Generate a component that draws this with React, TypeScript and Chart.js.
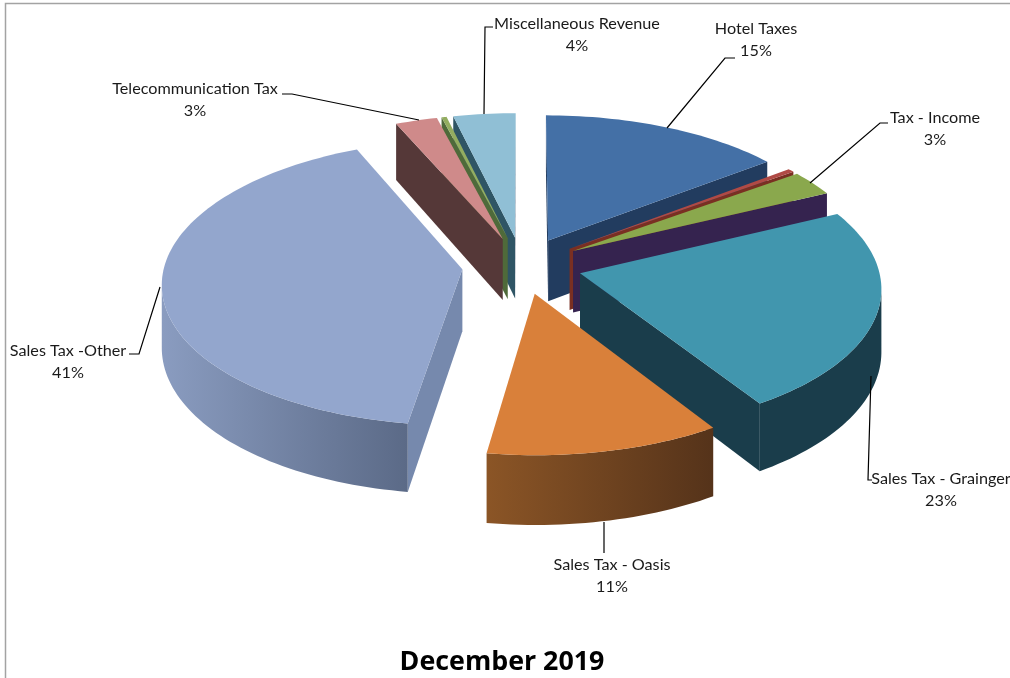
import React, { useEffect, useRef } from "react";
import { Chart, registerables } from "chart.js";

Chart.register(...registerables);

const categories = [
  "Hotel Taxes", "Franchise Tax", "Tax - Income", "Sales Tax - Grainger", "Sales Tax - Oasis",
  "Sales Tax -Other", "Telecommunication Tax", "Other Tax", "Miscellaneous Revenue",
];
const values = [14.6, 0.4, 2.87, 23.09, 11.4, 41.09, 2.52, 0.3, 3.73];
const percentLabels = ["15%", "", "3%", "23%", "11%", "41%", "3%", "", "4%"];

const topColors = ["#4470a6", "#b04a45", "#8aa84d", "#4196ae", "#d9803a", "#93a6cd", "#cf8a8a", "#93ad60", "#90bfd5"];
const startFaceColors = ["#223c5f", "#7a2f22", "#4f6a35", "#1a3d4b", "#8a5226", "#7689ad", "#553838", "#4f6a3a", "#2f5565"];
const endFaceColors = ["#223c5f", "#7a2f22", "#35234f", "#1a3d4b", "#6b4020", "#7689ad", "#553838", "#4f6a3a", "#4b4f66"];
const wallLeftColors = ["#223c5f", "#7a2f22", "#35234f", "#1a3d4b", "#8b5526", "#8a9cc0", "#553838", "#4f6a3a", "#2f5565"];
const wallRightColors = ["#223c5f", "#7a2f22", "#35234f", "#1a3d4b", "#55331a", "#5b6a87", "#553838", "#4f6a3a", "#2f5565"];

// label text centre and leader line, per labelled category
const labelBoxes: Record<string, { x: number; y: number; line: number[][] }> = {
  "Hotel Taxes": { x: 756, y: 29, line: [[667, 128], [725, 58], [735, 58]] },
  "Tax - Income": { x: 935, y: 118, line: [[810, 183], [880, 123], [888, 123]] },
  "Sales Tax - Grainger": { x: 941, y: 479, line: [[871, 376], [868, 480], [872, 480]] },
  "Sales Tax - Oasis": { x: 612, y: 565, line: [[604, 522], [604, 553]] },
  "Sales Tax -Other": { x: 68, y: 351, line: [[160, 287], [139, 354], [129, 354]] },
  "Telecommunication Tax": { x: 195, y: 89, line: [[419, 120], [292, 94], [282, 94]] },
  "Miscellaneous Revenue": { x: 577, y: 24, line: [[484, 114], [485, 27], [493, 27]] },
};

const SQUASH = 141 / 298;
const PERSPECTIVE = 0.0926;
const DEPTH = 62;
const PIE_SHIFT_X = 20;
const FONT = "Lato";

const pie3d = {
  id: "pie3d",
  beforeDatasetsDraw(chart: any) {
    const ctx = chart.ctx;
    const arcs = chart.getDatasetMeta(0).data;
    const warp = (x0: number, y0: number, R: number, px: number, py: number, z: number) => {
      const w = 1 - (PERSPECTIVE * (py - y0)) / R;
      return [x0 + PIE_SHIFT_X + (px - x0) / w, y0 + (SQUASH * (py - y0) + z) / w];
    };
    const items = arcs.map((arc: any, i: number) => {
      const { x, y, startAngle, endAngle, outerRadius } = arc.getProps(["x", "y", "startAngle", "endAngle", "outerRadius"], true);
      const mid = (startAngle + endAngle) / 2;
      const off = arc.options.offset || 0;
      const tx = x + Math.cos(mid) * off;
      const ty = y + Math.sin(mid) * off;
      const n = Math.max(6, Math.ceil((endAngle - startAngle) * 40));
      const rim: number[][] = [];
      for (let k = 0; k <= n; k++) {
        const a = startAngle + ((endAngle - startAngle) * k) / n;
        rim.push([tx + Math.cos(a) * outerRadius, ty + Math.sin(a) * outerRadius]);
      }
      const P = (p: number[], z: number) => warp(x, y, outerRadius, p[0], p[1], z);
      return { i, mid, tip: [tx, ty], rim, P, key: Math.sin(mid) };
    });
    const shoelace = (a: number[], b: number[], c: number[], d: number[]) =>
      a[0] * b[1] - b[0] * a[1] + b[0] * c[1] - c[0] * b[1] + c[0] * d[1] - d[0] * c[1] + d[0] * a[1] - a[0] * d[1];
    const fillPoly = (pts: number[][], fill: any) => {
      ctx.beginPath();
      pts.forEach((p, k) => (k ? ctx.lineTo(p[0], p[1]) : ctx.moveTo(p[0], p[1])));
      ctx.closePath();
      ctx.fillStyle = fill;
      ctx.fill();
    };
    const quad = (a: number[], b: number[], c: number[], d: number[], fill: any) => {
      if (shoelace(a, b, c, d) < 0) fillPoly([a, b, c, d], fill);
    };
    const sorted = [...items].sort((a: any, b: any) => a.key - b.key);
    sorted.forEach((s: any) => {
      const { P, rim, tip, i } = s;
      const first = rim[0];
      const last = rim[rim.length - 1];
      quad(P(tip, 0), P(first, 0), P(first, DEPTH), P(tip, DEPTH), startFaceColors[i]);
      quad(P(last, 0), P(tip, 0), P(tip, DEPTH), P(last, DEPTH), endFaceColors[i]);
      const xs = rim.map((p: number[]) => P(p, 0)[0]);
      const g = ctx.createLinearGradient(Math.min(...xs), 0, Math.max(...xs) + 0.01, 0);
      g.addColorStop(0, wallLeftColors[i]);
      g.addColorStop(1, wallRightColors[i]);
      let run: number[][] = [];
      const flush = () => {
        if (run.length > 1) {
          const tops = run.map((p) => P(p, 0));
          const bottoms = run.map((p) => P(p, DEPTH)).reverse();
          fillPoly([...tops, ...bottoms], g);
        }
        run = [];
      };
      for (let k = 0; k < rim.length - 1; k++) {
        const visible = shoelace(P(rim[k], 0), P(rim[k + 1], 0), P(rim[k + 1], DEPTH), P(rim[k], DEPTH)) < 0;
        if (visible) {
          if (!run.length) run.push(rim[k]);
          run.push(rim[k + 1]);
        } else flush();
      }
      flush();
    });
    sorted.forEach((s: any) => {
      const { P, rim, tip, i } = s;
      fillPoly([P(tip, 0), ...rim.map((p: number[]) => P(p, 0))], topColors[i]);
    });
    return false;
  },
  afterDraw(chart: any) {
    const ctx = chart.ctx;
    ctx.save();
    ctx.strokeStyle = "#a3a3a3";
    ctx.lineWidth = 1.5;
    ctx.beginPath();
    ctx.moveTo(5.5, 678);
    ctx.lineTo(5.5, 3.5);
    ctx.lineTo(1010, 3.5);
    ctx.stroke();
    ctx.font = `16.2px ${FONT}`;
    ctx.textAlign = "center";
    ctx.textBaseline = "middle";
    categories.forEach((name, i) => {
      const box = labelBoxes[name];
      if (!box) return;
      ctx.strokeStyle = "#000";
      ctx.lineWidth = 1.2;
      ctx.beginPath();
      box.line.forEach((p, k) => (k ? ctx.lineTo(p[0], p[1]) : ctx.moveTo(p[0], p[1])));
      ctx.stroke();
      ctx.fillStyle = "#1a1a1a";
      ctx.fillText(name, box.x, box.y);
      ctx.fillText(percentLabels[i], box.x, box.y + 21.5);
    });
    ctx.restore();
  },
};

export default function App() {
  const ref = useRef<HTMLCanvasElement>(null);
  useEffect(() => {
    const chart = new Chart(ref.current as HTMLCanvasElement, {
      type: "pie",
      data: {
        labels: categories,
        datasets: [{ data: values, backgroundColor: topColors, borderWidth: 0, offset: 60 }],
      },
      options: {
        animation: false,
        responsive: false,
        events: [],
        radius: 298,
        layout: { padding: { left: 0, right: 6, top: 0, bottom: 0 } },
        plugins: {
          legend: { display: false },
          tooltip: { enabled: false },
          title: {
            display: true,
            text: "December 2019",
            position: "bottom",
            color: "#000",
            font: { family: "Open Sans", size: 26.8, weight: "bold" },
            padding: { top: 115, bottom: 0 },
          },
        },
      } as any,
      plugins: [pie3d],
    });
    return () => chart.destroy();
  }, []);
  return (
    <canvas
      ref={ref}
      width={1010}
      height={678}
      style={{ position: "absolute", left: 0, top: 0, width: 1010, height: 678 }}
    />
  );
}
